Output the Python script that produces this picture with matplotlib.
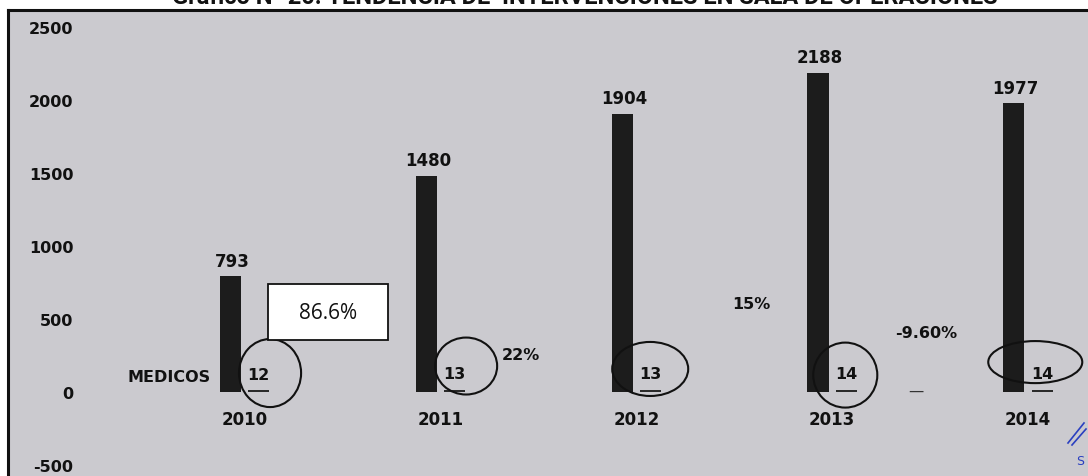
import numpy as np
import matplotlib
matplotlib.use("Agg")
import matplotlib.pyplot as plt
from matplotlib.patches import Ellipse, Rectangle

# series
years = ["2010", "2011", "2012", "2013", "2014"]
intervenciones = [793, 1480, 1904, 2188, 1977]
medicos = [12, 13, 13, 14, 14]
variacion = ["86.6%", "22%", "15%", "-9.60%"]
yticks = [-500, 0, 500, 1000, 1500, 2000, 2500]

BG = "#cbcacf"
BAR = "#1c1c1c"
LABEL_FONT = "DejaVu Sans"

fig = plt.figure(figsize=(10.88, 4.77), dpi=100)
fig.patch.set_facecolor("white")

W, H = 1088.0, 477.0
ax = fig.add_axes([8 / W, 0, (1095 - 8) / W, (H - 11) / H])
ax.set_facecolor(BG)

x = np.arange(len(years))
off = 0.072
bw = 0.108

ax.bar(x - off, intervenciones, width=bw, color=BAR, zorder=3)
ax.bar(x + off, medicos, width=bw, color="#2a2a2a", zorder=3)

ax.set_xlim(-1.208, 4.342)
ax.set_ylim(-575, 2616)

# value labels
for xi, v in zip(x, intervenciones):
    ax.text(xi - off + 0.01, v + 45, str(v), ha="center", va="bottom",
            fontsize=12, fontweight="bold", family=LABEL_FONT, color="#111111", zorder=4)
for xi, v in zip(x, medicos):
    ax.text(xi + off, v + 60, str(v), ha="center", va="bottom",
            fontsize=11.5, fontweight="bold", family=LABEL_FONT, color="#111111", zorder=4)

# category labels
for xi, yr in zip(x, years):
    ax.text(xi, -185, yr, ha="center", va="center", fontsize=12,
            fontweight="bold", family=LABEL_FONT, color="#111111")

ax.text(-off - 0.1, 103, "MEDICOS", ha="right", va="center", fontsize=11.5,
        fontweight="bold", family=LABEL_FONT, color="#111111")

# circles around the number of doctors
ellipses = [(0.130, 130, 0.317, 466), (0.131, 178, 0.317, 390),
            (0.071, 158, 0.388, 370), (0.067, 116, 0.327, 445),
            (0.037, 205, 0.480, 288)]
for xi, (dx, cy, ew, eh) in zip(x, ellipses):
    ax.add_patch(Ellipse((xi + dx, cy), ew, eh, fill=False, lw=1.5,
                         ec="#111111", zorder=5))

# year-over-year change
pct_pos = [(0.427, 548), (1.413, 260), (2.588, 603), (3.481, 411)]
for i, (txt, (px, py)) in enumerate(zip(variacion, pct_pos)):
    if i == 0:
        ax.add_patch(Rectangle((px - 0.307, py - 192), 0.614, 384, fc="white",
                               ec="#111111", lw=1.3, zorder=5))
        ax.text(px, py, txt, ha="center", va="center", fontsize=15,
                family="Open Sans", color="#111111", zorder=6)
    else:
        ax.text(px, py, txt, ha="center", va="center", fontsize=11.5,
                fontweight="bold", family=LABEL_FONT, color="#111111", zorder=6)

ax.text(3.425, 10, "\u2014", ha="center", va="center", fontsize=11, color="#333333")

# y axis labels drawn inside the frame
ax.set_yticks(yticks)
ax.set_yticklabels([str(t) for t in yticks], fontsize=11.5, fontweight="bold",
                   family=LABEL_FONT, color="#111111")
ax.tick_params(axis="y", length=0, pad=-47)
ax.set_xticks([])

for s in ["right", "bottom"]:
    ax.spines[s].set_visible(False)
for s in ["top", "left"]:
    ax.spines[s].set_linewidth(2.2)
    ax.spines[s].set_color("#111111")

fig.text(585 / W, 1 + 2 / H, "Gráfico N° 20: TENDENCIA DE  INTERVENCIONES EN SALA DE OPERACIONES",
         ha="center", va="center", fontsize=17, fontweight="bold",
         family="Roboto", color="#111111")

# pen marks in the corner
fig.add_artist(plt.Line2D([1068 / W, 1084 / W], [1 - 444 / H, 1 - 424 / H],
                          color="#2a3fc0", lw=1.2))
fig.add_artist(plt.Line2D([1072 / W, 1086 / W], [1 - 446 / H, 1 - 430 / H],
                          color="#2a3fc0", lw=1.2))
fig.text(1076 / W, 1 - 462 / H, "S", fontsize=9, color="#2a3fc0", ha="left", va="center")

fig.savefig("out.png", dpi=100, facecolor=fig.get_facecolor())
